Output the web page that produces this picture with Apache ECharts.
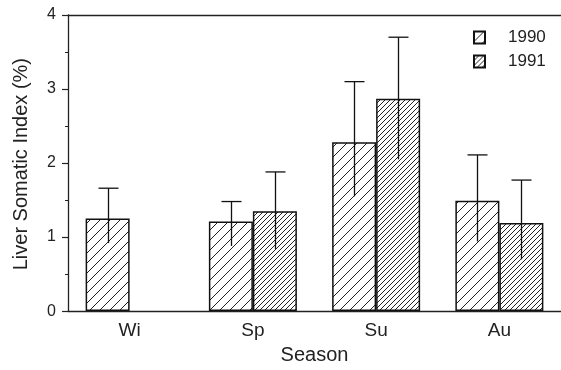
<!DOCTYPE html>
<html>
<head>
<meta charset="utf-8">
<script src="https://cdn.jsdelivr.net/npm/echarts@6/dist/echarts.min.js"></script>
<style>
html,body{margin:0;padding:0;background:#fff;}
#main{width:561px;height:370px;}
</style>
</head>
<body>
<div id="main"></div>
<script>
var categories = ['Wi', 'Sp', 'Su', 'Au'];
var years = ['1990', '1991'];
var mean1990 = [1.25, 1.21, 2.28, 1.49];
var mean1991 = [null, 1.35, 2.87, 1.19];
var low1990 = [0.92, 0.88, 1.55, 0.94];
var high1990 = [1.66, 1.48, 3.10, 2.11];
var low1991 = [null, 0.84, 2.05, 0.70];
var high1991 = [null, 1.88, 3.70, 1.77];
var yTicks = [0, 1, 2, 3, 4];

var FONT = 'Liberation Sans, Arial, Helvetica, sans-serif';
var BAR_W = 44;

function hatch(spacing, lw) {
  var c = document.createElement('canvas');
  c.width = spacing; c.height = spacing;
  var ctx = c.getContext('2d');
  ctx.fillStyle = '#fff';
  ctx.fillRect(0, 0, spacing, spacing);
  ctx.strokeStyle = '#222';
  ctx.lineWidth = lw;
  ctx.beginPath();
  ctx.moveTo(-1, spacing + 1); ctx.lineTo(spacing + 1, -1);
  ctx.moveTo(-2, 2); ctx.lineTo(2, -2);
  ctx.moveTo(spacing - 2, spacing + 2); ctx.lineTo(spacing + 2, spacing - 2);
  ctx.stroke();
  return c;
}
var pat1990 = { image: hatch(10, 1), repeat: 'repeat' };
var pat1991 = { image: hatch(5, 1), repeat: 'repeat' };

function errData(lo, hi) {
  var out = [];
  for (var i = 0; i < categories.length; i++) {
    if (lo[i] != null && hi[i] != null) out.push([i, lo[i], hi[i]]);
  }
  return out;
}
function errSeries(name, lo, hi, shift) {
  return {
    type: 'custom',
    name: name,
    data: errData(lo, hi),
    z: 5,
    renderItem: function (params, api) {
      var idx = api.value(0);
      var pLo = api.coord([idx, api.value(1)]);
      var pHi = api.coord([idx, api.value(2)]);
      var x = Math.round(pLo[0] + shift) + 0.5;
      return {
        type: 'group',
        children: [
          { type: 'line', shape: { x1: x, y1: pLo[1], x2: x, y2: pHi[1] }, style: { stroke: '#111', lineWidth: 1.3 } },
          { type: 'line', shape: { x1: x - 10, y1: pHi[1], x2: x + 10, y2: pHi[1] }, style: { stroke: '#111', lineWidth: 1.3 } }
        ]
      };
    }
  };
}

var chart = echarts.init(document.getElementById('main'), null, { renderer: 'canvas' });
chart.setOption({
  animation: false,
  backgroundColor: '#fff',
  textStyle: { fontFamily: FONT },
  grid: { left: 68, right: -7, top: 15, bottom: 50, containLabel: false },
  legend: {
    data: years,
    orient: 'vertical',
    left: 473,
    top: 29,
    padding: 0,
    itemWidth: 11,
    itemHeight: 12,
    itemGap: 7,
    textStyle: { fontSize: 17, color: '#222', fontFamily: FONT, padding: [0, 0, 0, 18] },
    icon: 'rect'
  },
  xAxis: [{
    type: 'category',
    data: categories,
    axisLine: { show: true, lineStyle: { color: '#222', width: 1.3 } },
    axisTick: { show: false },
    axisLabel: { fontSize: 19, color: '#222', margin: 10, fontFamily: FONT },
    name: 'Season',
    nameLocation: 'middle',
    nameGap: 32,
    nameTextStyle: { fontSize: 20, color: '#222', fontFamily: FONT }
  }, {
    type: 'category',
    data: categories,
    position: 'top',
    axisLine: { show: true, lineStyle: { color: '#222', width: 1.3 } },
    axisTick: { show: false },
    axisLabel: { show: false }
  }],
  yAxis: {
    type: 'value',
    min: 0, max: 4, interval: 1,
    axisLine: { show: true, lineStyle: { color: '#222', width: 1.3 } },
    axisTick: { show: true, length: 6, lineStyle: { color: '#222', width: 1.2 } },
    minorTick: { show: true, splitNumber: 2, length: 3, lineStyle: { color: '#222' } },
    splitLine: { show: false },
    axisLabel: {
      fontSize: 16, color: '#222', margin: 12, fontFamily: FONT,
      formatter: function (v) { return yTicks.indexOf(v) >= 0 ? String(v) : ''; }
    }
  },
  graphic: [{
    type: 'text',
    left: 11,
    top: 58,
    rotation: Math.PI / 2,
    style: { text: 'Liver Somatic Index (%)', fontSize: 20, fill: '#222', fontFamily: FONT }
  }],
  series: [{
    type: 'bar',
    name: '1990',
    data: mean1990,
    barWidth: BAR_W,
    barGap: '0%',
    itemStyle: { color: pat1990, borderColor: '#111', borderWidth: 1.5 }
  }, {
    type: 'bar',
    name: '1991',
    data: mean1991,
    barWidth: BAR_W,
    barGap: '0%',
    itemStyle: { color: pat1991, borderColor: '#111', borderWidth: 1.5 }
  },
  errSeries('err1990', low1990, high1990, -BAR_W / 2),
  errSeries('err1991', low1991, high1991, BAR_W / 2)
  ]
});
</script>
</body>
</html>
